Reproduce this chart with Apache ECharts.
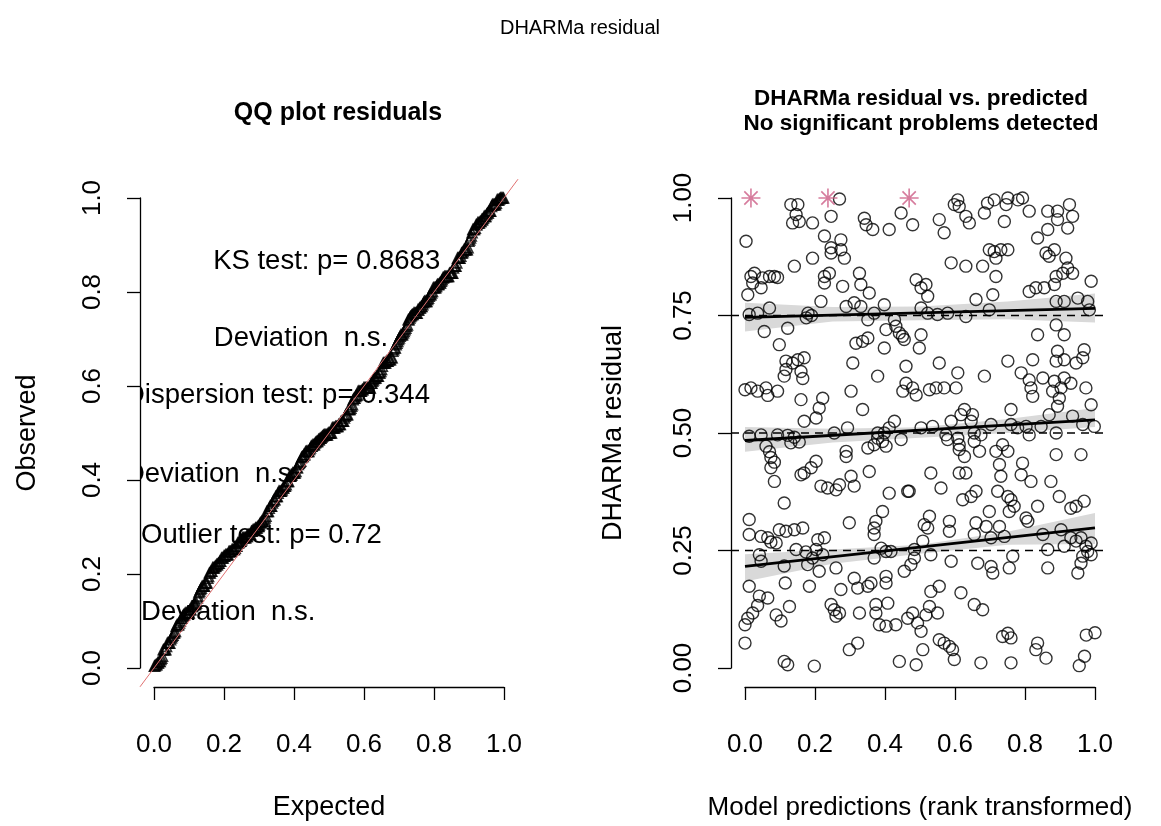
<!DOCTYPE html>
<html>
<head>
<meta charset="utf-8">
<title>DHARMa residual</title>
<script src="https://cdn.jsdelivr.net/npm/echarts@6/dist/echarts.min.js"></script>
<style>
  html, body { margin: 0; padding: 0; background: #fff; }
  #chart { width: 1161px; height: 826px; }
</style>
</head>
<body>
<div id="chart"></div>
<script>
// scaled residuals vs rank-transformed predictions
const residualPoints = [
  [0.003,0.908],[0.017,0.833],[0.027,0.84],[0.05,0.83],[0.07,0.833],[0.084,0.833],[0.093,0.831],[0.022,0.819],
  [0.046,0.809],[0.008,0.794],[0.07,0.766],[0.036,0.755],[0.012,0.752],[0.055,0.716],[0.098,0.688],[0.117,0.653],
  [0.117,0.635],[0.112,0.621],[0.0,0.592],[0.017,0.596],[0.036,0.589],[0.06,0.596],[0.065,0.58],[0.093,0.589],
  [0.012,0.493],[0.046,0.496],[0.093,0.496],[0.06,0.472],[0.07,0.46],[0.074,0.448],[0.084,0.438],[0.074,0.426],
  [0.084,0.397],[0.112,0.351],[0.012,0.316],[0.098,0.294],[0.012,0.284],[0.046,0.28],[0.065,0.277],[0.074,0.268],
  [0.089,0.266],[0.041,0.241],[0.046,0.227],[0.012,0.174],[0.115,0.181],[0.041,0.153],[0.065,0.149],[0.036,0.133],
  [0.022,0.117],[0.008,0.106],[0.0,0.092],[0.089,0.113],[0.0,0.053],
  [0.131,0.986],[0.151,0.986],[0.146,0.965],[0.136,0.947],[0.155,0.95],[0.193,0.947],[0.227,0.919],[0.193,0.872],
  [0.141,0.855],[0.227,0.833],[0.227,0.819],[0.217,0.78],[0.18,0.755],[0.19,0.75],[0.175,0.745],[0.122,0.723],
  [0.136,0.649],[0.151,0.656],[0.169,0.66],[0.16,0.631],[0.165,0.616],[0.16,0.571],[0.222,0.574],[0.212,0.553],
  [0.203,0.532],[0.169,0.525],[0.122,0.495],[0.141,0.491],[0.155,0.481],[0.131,0.479],[0.203,0.44],[0.189,0.426],
  [0.169,0.415],[0.16,0.411],[0.217,0.387],[0.236,0.383],[0.117,0.291],[0.141,0.294],[0.165,0.298],[0.208,0.273],
  [0.227,0.277],[0.146,0.252],[0.174,0.247],[0.203,0.252],[0.222,0.241],[0.193,0.234],[0.112,0.217],[0.179,0.22],
  [0.212,0.206],[0.184,0.174],[0.127,0.131],[0.103,0.1],[0.112,0.014],[0.122,0.007],[0.198,0.004],
  [0.27,0.998],[0.246,0.961],[0.341,0.957],[0.346,0.943],[0.365,0.933],[0.274,0.911],[0.246,0.894],[0.274,0.89],
  [0.246,0.883],[0.284,0.872],[0.241,0.84],[0.327,0.84],[0.331,0.816],[0.279,0.812],[0.355,0.798],[0.289,0.769],
  [0.312,0.777],[0.331,0.769],[0.351,0.741],[0.369,0.755],[0.317,0.691],[0.336,0.695],[0.351,0.702],[0.308,0.649],
  [0.379,0.621],[0.303,0.589],[0.336,0.55],[0.255,0.5],[0.293,0.511],[0.379,0.5],[0.289,0.461],[0.289,0.45],
  [0.351,0.468],[0.369,0.475],[0.355,0.418],[0.26,0.379],[0.27,0.39],[0.303,0.408],[0.312,0.387],[0.298,0.309],
  [0.369,0.234],[0.26,0.213],[0.312,0.191],[0.322,0.17],[0.351,0.174],[0.274,0.167],[0.374,0.135],[0.374,0.117],
  [0.384,0.092],[0.246,0.135],[0.255,0.124],[0.26,0.11],[0.27,0.117],[0.327,0.117],[0.298,0.039],[0.322,0.053],
  [0.446,0.968],[0.479,0.943],[0.412,0.933],[0.489,0.826],[0.503,0.809],[0.398,0.773],[0.427,0.741],[0.431,0.727],
  [0.403,0.72],[0.441,0.713],[0.45,0.706],[0.455,0.699],[0.503,0.709],[0.498,0.681],[0.398,0.681],[0.46,0.642],
  [0.46,0.606],[0.479,0.596],[0.451,0.589],[0.489,0.581],[0.427,0.525],[0.412,0.511],[0.398,0.5],[0.446,0.486],
  [0.379,0.489],[0.393,0.482],[0.403,0.472],[0.412,0.372],[0.465,0.376],[0.469,0.376],[0.393,0.333],[0.374,0.312],
  [0.369,0.298],[0.369,0.284],[0.389,0.255],[0.403,0.248],[0.417,0.248],[0.484,0.252],[0.484,0.234],[0.474,0.22],
  [0.455,0.206],[0.36,0.181],[0.403,0.195],[0.403,0.181],[0.408,0.138],[0.403,0.089],[0.431,0.092],[0.465,0.106],
  [0.479,0.117],[0.493,0.096],[0.503,0.078],[0.441,0.014],[0.489,0.007],
  [0.608,0.996],[0.598,0.986],[0.612,0.982],[0.555,0.954],[0.631,0.961],[0.569,0.926],[0.589,0.862],[0.631,0.855],
  [0.517,0.816],[0.522,0.791],[0.503,0.766],[0.522,0.755],[0.55,0.752],[0.579,0.755],[0.631,0.748],[0.555,0.649],
  [0.608,0.628],[0.603,0.596],[0.569,0.596],[0.546,0.596],[0.527,0.592],[0.627,0.55],[0.617,0.539],[0.589,0.525],
  [0.503,0.511],[0.536,0.514],[0.574,0.496],[0.579,0.486],[0.608,0.489],[0.612,0.475],[0.612,0.465],[0.531,0.415],
  [0.56,0.383],[0.612,0.415],[0.631,0.415],[0.622,0.358],[0.527,0.323],[0.512,0.305],[0.522,0.298],[0.584,0.312],
  [0.584,0.291],[0.508,0.27],[0.531,0.241],[0.589,0.227],[0.555,0.174],[0.531,0.163],[0.617,0.16],[0.527,0.131],
  [0.55,0.117],[0.517,0.113],[0.555,0.06],[0.569,0.053],[0.584,0.046],[0.593,0.039],[0.598,0.018],[0.508,0.039],
  [0.693,0.989],[0.712,0.996],[0.751,1.0],[0.746,0.986],[0.684,0.968],[0.641,0.947],[0.741,0.95],[0.698,0.89],
  [0.712,0.886],[0.731,0.89],[0.751,0.89],[0.717,0.872],[0.717,0.833],[0.679,0.855],[0.66,0.784],[0.708,0.794],
  [0.698,0.762],[0.751,0.653],[0.684,0.621],[0.65,0.539],[0.646,0.525],[0.703,0.518],[0.76,0.55],[0.76,0.518],
  [0.655,0.5],[0.674,0.496],[0.655,0.482],[0.627,0.45],[0.736,0.475],[0.717,0.461],[0.727,0.433],[0.731,0.408],
  [0.67,0.461],[0.646,0.365],[0.66,0.376],[0.722,0.376],[0.76,0.358],[0.755,0.333],[0.698,0.333],[0.66,0.309],
  [0.689,0.301],[0.727,0.301],[0.655,0.284],[0.703,0.277],[0.741,0.28],[0.665,0.223],[0.703,0.216],[0.708,0.202],
  [0.755,0.213],[0.765,0.238],[0.655,0.135],[0.679,0.124],[0.736,0.067],[0.751,0.074],[0.76,0.064],[0.674,0.011],
  [0.76,0.011],
  [0.78,0.996],[0.793,1.0],[0.812,0.972],[0.865,0.972],[0.836,0.915],[0.865,0.933],[0.86,0.883],[0.869,0.876],
  [0.889,0.833],[0.884,0.816],[0.812,0.801],[0.831,0.809],[0.855,0.809],[0.889,0.78],[0.889,0.73],[0.836,0.709],
  [0.893,0.674],[0.889,0.653],[0.822,0.656],[0.789,0.628],[0.812,0.613],[0.817,0.596],[0.822,0.578],[0.851,0.617],
  [0.884,0.61],[0.879,0.589],[0.893,0.557],[0.869,0.539],[0.779,0.511],[0.803,0.514],[0.812,0.496],[0.846,0.514],
  [0.889,0.5],[0.751,0.461],[0.793,0.436],[0.789,0.411],[0.817,0.397],[0.874,0.397],[0.898,0.365],[0.751,0.365],
  [0.769,0.344],[0.836,0.344],[0.803,0.319],[0.808,0.312],[0.851,0.284],[0.865,0.252],[0.865,0.213],[0.836,0.053],
  [0.831,0.039],[0.86,0.021],
  [0.893,0.972],[0.927,0.986],[0.936,0.961],[0.922,0.936],[0.893,0.954],[0.884,0.89],[0.917,0.872],[0.922,0.851],
  [0.908,0.84],[0.936,0.84],[0.989,0.823],[0.912,0.78],[0.951,0.787],[0.979,0.78],[0.984,0.762],[0.912,0.709],
  [0.912,0.656],[0.946,0.649],[0.965,0.66],[0.969,0.677],[0.912,0.617],[0.931,0.606],[0.903,0.596],[0.974,0.596],
  [0.898,0.574],[0.989,0.56],[0.936,0.536],[0.965,0.518],[0.998,0.514],[0.96,0.454],[0.889,0.454],[0.931,0.34],
  [0.946,0.344],[0.969,0.355],[0.903,0.294],[0.931,0.277],[0.946,0.27],[0.96,0.277],[0.974,0.259],[0.989,0.266],
  [0.912,0.259],[0.965,0.238],[0.96,0.223],[0.951,0.202],[0.979,0.248],[0.989,0.241],[0.975,0.07],[1.0,0.075],
  [0.97,0.025],[0.955,0.005]
];

// outliers, drawn as stars at the upper limit
const outlierPoints = [[0.017, 1.0], [0.237, 1.0], [0.469, 1.0]];

// fitted quantile regression lines and their bands (x = 0, .25, .5, .75, 1)
const bandX = [0, 0.25, 0.5, 0.75, 1];
const q25Line  = [[0, 0.216], [1, 0.298]];
const q25Upper = [0.242, 0.252, 0.262, 0.290, 0.330];
const q25Lower = [0.184, 0.222, 0.243, 0.262, 0.264];
const q50Line  = [[0, 0.484], [1, 0.528]];
const q50Upper = [0.513, 0.509, 0.512, 0.530, 0.553];
const q50Lower = [0.460, 0.480, 0.490, 0.500, 0.513];
const q75Line  = [[0, 0.746], [1, 0.765]];
const q75Upper = [0.777, 0.768, 0.769, 0.780, 0.797];
const q75Lower = [0.716, 0.737, 0.740, 0.742, 0.735];
const quantileLevels = [0.25, 0.5, 0.75];

// test results written inside the QQ panel
const qqTestLabels = [
  'KS test: p= 0.8683', 'Deviation  n.s.',
  'Dispersion test: p= 0.344', 'Deviation  n.s.',
  'Outlier test: p= 0.72', 'Deviation  n.s.'
];

// QQ panel: sorted residuals against uniform quantiles
const qqObserved = residualPoints.map(p => p[1])
  .concat(outlierPoints.map(p => p[1]))
  .sort((a, b) => a - b);
const qqData = qqObserved.map((v, i) => [(i + 0.5) / qqObserved.length, v]);

const FONT = '"Liberation Sans", Arial, sans-serif';
const chart = echarts.init(document.getElementById('chart'));

// where the test labels start (left edge, centre line), in panel units
const qqTextPos = [[0.169, 0.864], [0.171, 0.702], [-0.083, 0.579], [-0.083, 0.411], [-0.037, 0.283], [-0.037, 0.119]];

function visibleAxis(gridIndex, interval, digits, isY) {
  return {
    gridIndex: gridIndex,
    type: 'value', min: 0, max: 1, interval: interval,
    offset: isY ? 14 : 19,
    z: 10,
    splitLine: { show: false },
    axisLine: { show: true, onZero: false, lineStyle: { color: '#000', width: 1.3 } },
    axisTick: { show: true, length: 13, lineStyle: { color: '#000', width: 1.3 } },
    axisLabel: {
      color: '#000', fontSize: 26, fontFamily: FONT,
      margin: isY ? 34 : 45,
      rotate: isY ? 90 : 0,
      formatter: v => v.toFixed(digits)
    }
  };
}
function hiddenAxis(gridIndex) {
  return { gridIndex: gridIndex, type: 'value', min: -0.04, max: 1.04, show: false, splitLine: { show: false } };
}

function bandPolygon(upper, lower) {
  return upper.map((u, i) => [bandX[i], u]).concat(lower.map((l, i) => [bandX[i], l]).reverse());
}

function text(x, y, str, opt) {
  return Object.assign({
    type: 'text', x: x, y: y, z: 20,
    style: Object.assign({
      text: str, fill: '#000', font: '27px ' + FONT,
      textAlign: 'center', textVerticalAlign: 'middle', align: 'center', verticalAlign: 'middle'
    }, opt && opt.style)
  }, opt && opt.el);
}

chart.setOption({
  backgroundColor: '#fff',
  animation: false,
  grid: [
    { left: 154, top: 198, width: 350, height: 470 },
    { left: 140, top: 179.2, width: 378, height: 507.6 },
    { left: 745, top: 198, width: 350, height: 470 },
    { left: 731, top: 179.2, width: 378, height: 507.6 }
  ],
  xAxis: [visibleAxis(0, 0.2, 1, false), hiddenAxis(1), visibleAxis(2, 0.2, 1, false), hiddenAxis(3)],
  yAxis: [visibleAxis(0, 0.2, 1, true), hiddenAxis(1), visibleAxis(2, 0.25, 2, true), hiddenAxis(3)],
  graphic: [
    text(580, 28, 'DHARMa residual', { style: { font: '20px ' + FONT } }),
    text(338, 113, 'QQ plot residuals', { style: { font: 'bold 25px ' + FONT } }),
    text(921, 99, 'DHARMa residual vs. predicted', { style: { font: 'bold 22.5px ' + FONT } }),
    text(921, 124, 'No significant problems detected', { style: { font: 'bold 22.5px ' + FONT } }),
    text(329, 808, 'Expected'),
    text(920, 808, 'Model predictions (rank transformed)', { style: { font: '26px ' + FONT } }),
    text(28, 433, 'Observed', { el: { rotation: Math.PI / 2 } }),
    text(614, 433, 'DHARMa residual', { el: { rotation: Math.PI / 2 } })
  ],
  series: [
    {
      // test summaries, clipped at the plot region like base graphics
      type: 'custom', xAxisIndex: 1, yAxisIndex: 1, clip: true, z: 1,
      data: qqTextPos,
      renderItem: (params, api) => {
        const p = api.coord([api.value(0), api.value(1)]);
        return {
          type: 'text', x: p[0], y: p[1],
          style: {
            text: qqTestLabels[params.dataIndex], fill: '#000', font: '27.5px ' + FONT,
            textAlign: 'left', textVerticalAlign: 'middle', align: 'left', verticalAlign: 'middle'
          }
        };
      }
    },
    {
      type: 'scatter', xAxisIndex: 0, yAxisIndex: 0, clip: false, z: 3,
      data: qqData, symbol: 'triangle', symbolSize: 10,
      itemStyle: { color: 'rgba(0,0,0,0)', borderColor: '#000', borderWidth: 1.6 }
    },
    {
      type: 'line', xAxisIndex: 1, yAxisIndex: 1, z: 4,
      data: [[-0.04, -0.04], [1.04, 1.04]], symbol: 'none',
      lineStyle: { color: '#e07070', width: 1 }
    },
    {
      type: 'custom', xAxisIndex: 2, yAxisIndex: 2, clip: false, z: 2,
      data: [0, 1, 2],
      renderItem: (params, api) => {
        const poly = [bandPolygon(q25Upper, q25Lower), bandPolygon(q50Upper, q50Lower), bandPolygon(q75Upper, q75Lower)][params.dataIndex];
        return {
          type: 'polygon',
          shape: { points: poly.map(p => api.coord(p)) },
          style: { fill: '#d9d9d9' }
        };
      }
    },
    {
      type: 'scatter', xAxisIndex: 2, yAxisIndex: 2, clip: false, z: 3,
      data: residualPoints, symbol: 'circle', symbolSize: 12,
      itemStyle: { color: 'rgba(0,0,0,0)', borderColor: '#000', borderWidth: 1.4 }
    },
    {
      type: 'scatter', xAxisIndex: 2, yAxisIndex: 2, clip: false, z: 3,
      data: outlierPoints, symbolSize: 19,
      symbol: 'path://M10,0L10,20M0,10L20,10M3,3L17,17M3,17L17,3',
      itemStyle: { color: 'rgba(0,0,0,0)', borderColor: '#cc5b85', borderWidth: 1.6 }
    }
  ].concat(quantileLevels.map(q => ({
    type: 'line', xAxisIndex: 3, yAxisIndex: 3, z: 4, symbol: 'none',
    data: [[-0.04, q], [1.04, q]],
    lineStyle: { color: '#000', width: 1.4, type: [8, 6] }
  }))).concat([q25Line, q50Line, q75Line].map(l => ({
    type: 'line', xAxisIndex: 2, yAxisIndex: 2, z: 5, symbol: 'none',
    data: l, lineStyle: { color: '#000', width: 2.8 }
  })))
});
</script>
</body>
</html>
